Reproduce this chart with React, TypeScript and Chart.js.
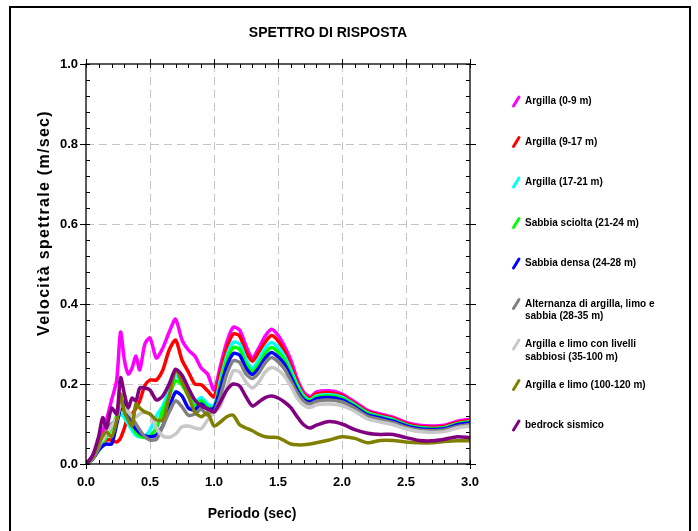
import React, { useEffect, useRef } from "react";
import { Chart, registerables } from "chart.js";
Chart.register(...registerables);

const periods = [0, 0.05, 0.1, 0.13, 0.16, 0.2, 0.24, 0.27, 0.3, 0.33, 0.36, 0.39, 0.42, 0.46, 0.5, 0.55, 0.6, 0.65, 0.7, 0.75, 0.8, 0.85, 0.9, 0.95, 1.0, 1.05, 1.1, 1.15, 1.2, 1.25, 1.3, 1.35, 1.4, 1.45, 1.5, 1.55, 1.6, 1.65, 1.7, 1.75, 1.8, 1.9, 2.0, 2.1, 2.2, 2.3, 2.4, 2.5, 2.6, 2.7, 2.8, 2.9, 3.0];

const argilla0_9 = [0, 0.02, 0.05, 0.08, 0.11, 0.16, 0.21, 0.33, 0.26, 0.225, 0.24, 0.27, 0.235, 0.3, 0.315, 0.265, 0.29, 0.33, 0.362, 0.31, 0.285, 0.27, 0.24, 0.225, 0.185, 0.245, 0.305, 0.342, 0.335, 0.295, 0.265, 0.29, 0.32, 0.337, 0.322, 0.295, 0.26, 0.212, 0.18, 0.168, 0.18, 0.183, 0.175, 0.155, 0.134, 0.125, 0.117, 0.104, 0.097, 0.095, 0.097, 0.107, 0.112];
const argilla9_17 = [0, 0.015, 0.04, 0.05, 0.06, 0.06, 0.055, 0.065, 0.09, 0.12, 0.125, 0.14, 0.158, 0.196, 0.21, 0.21, 0.235, 0.285, 0.31, 0.26, 0.23, 0.2, 0.198, 0.183, 0.168, 0.23, 0.29, 0.325, 0.32, 0.28, 0.257, 0.28, 0.305, 0.321, 0.308, 0.283, 0.245, 0.205, 0.175, 0.164, 0.175, 0.178, 0.171, 0.151, 0.131, 0.122, 0.114, 0.101, 0.094, 0.092, 0.094, 0.104, 0.109];
const argilla17_21 = [0, 0.012, 0.035, 0.05, 0.07, 0.09, 0.11, 0.125, 0.115, 0.1, 0.085, 0.072, 0.068, 0.07, 0.085, 0.12, 0.145, 0.185, 0.22, 0.205, 0.18, 0.155, 0.166, 0.15, 0.145, 0.21, 0.27, 0.304, 0.3, 0.262, 0.24, 0.262, 0.29, 0.304, 0.292, 0.27, 0.235, 0.198, 0.17, 0.16, 0.17, 0.173, 0.167, 0.148, 0.128, 0.119, 0.111, 0.098, 0.091, 0.089, 0.091, 0.101, 0.106];
const sabbiaSciolta = [0, 0.012, 0.035, 0.05, 0.07, 0.09, 0.12, 0.14, 0.13, 0.11, 0.095, 0.079, 0.07, 0.066, 0.07, 0.09, 0.135, 0.17, 0.208, 0.198, 0.17, 0.145, 0.158, 0.142, 0.14, 0.2, 0.26, 0.291, 0.287, 0.25, 0.232, 0.25, 0.277, 0.291, 0.28, 0.26, 0.226, 0.192, 0.166, 0.158, 0.167, 0.17, 0.164, 0.146, 0.126, 0.117, 0.109, 0.097, 0.09, 0.088, 0.09, 0.1, 0.105];
const sabbiaDensa = [0, 0.012, 0.035, 0.045, 0.05, 0.05, 0.1, 0.14, 0.155, 0.12, 0.1, 0.088, 0.078, 0.07, 0.068, 0.072, 0.095, 0.14, 0.18, 0.17, 0.14, 0.135, 0.15, 0.137, 0.14, 0.19, 0.245, 0.276, 0.272, 0.24, 0.224, 0.24, 0.265, 0.279, 0.268, 0.25, 0.218, 0.185, 0.162, 0.155, 0.163, 0.166, 0.16, 0.143, 0.123, 0.115, 0.107, 0.095, 0.088, 0.086, 0.088, 0.098, 0.103];
const alternanza = [0, 0.012, 0.04, 0.06, 0.08, 0.1, 0.11, 0.15, 0.14, 0.13, 0.115, 0.1, 0.085, 0.068, 0.06, 0.062, 0.095, 0.13, 0.158, 0.143, 0.122, 0.125, 0.137, 0.122, 0.13, 0.17, 0.225, 0.258, 0.254, 0.225, 0.214, 0.228, 0.253, 0.266, 0.256, 0.238, 0.208, 0.178, 0.157, 0.15, 0.157, 0.16, 0.155, 0.139, 0.119, 0.111, 0.103, 0.092, 0.085, 0.083, 0.085, 0.094, 0.099];
const argillaLimoLivelli = [0, 0.015, 0.05, 0.06, 0.075, 0.095, 0.115, 0.15, 0.14, 0.13, 0.12, 0.118, 0.125, 0.13, 0.125, 0.09, 0.07, 0.067, 0.075, 0.093, 0.095, 0.09, 0.088, 0.11, 0.128, 0.145, 0.19, 0.233, 0.23, 0.205, 0.19, 0.205, 0.23, 0.241, 0.235, 0.22, 0.195, 0.165, 0.147, 0.141, 0.148, 0.15, 0.146, 0.132, 0.113, 0.105, 0.098, 0.088, 0.081, 0.079, 0.081, 0.09, 0.095];
const argillaLimo = [0, 0.015, 0.05, 0.07, 0.08, 0.068, 0.11, 0.175, 0.13, 0.11, 0.095, 0.15, 0.14, 0.13, 0.125, 0.11, 0.11, 0.17, 0.235, 0.205, 0.17, 0.13, 0.118, 0.128, 0.095, 0.105, 0.118, 0.122, 0.098, 0.09, 0.083, 0.074, 0.068, 0.067, 0.066, 0.058, 0.05, 0.048, 0.048, 0.05, 0.053, 0.06, 0.068, 0.064, 0.053, 0.059, 0.059, 0.055, 0.053, 0.053, 0.056, 0.058, 0.058];
const bedrock = [0, 0.02, 0.07, 0.116, 0.09, 0.14, 0.125, 0.216, 0.175, 0.141, 0.165, 0.158, 0.19, 0.19, 0.185, 0.16, 0.17, 0.2, 0.237, 0.222, 0.19, 0.16, 0.145, 0.138, 0.13, 0.155, 0.185, 0.2, 0.195, 0.168, 0.145, 0.155, 0.166, 0.17, 0.165, 0.155, 0.141, 0.118, 0.098, 0.09, 0.097, 0.106, 0.1, 0.086, 0.077, 0.074, 0.074, 0.066, 0.059, 0.058, 0.062, 0.068, 0.066];

const seriesValues = [argilla0_9, argilla9_17, argilla17_21, sabbiaSciolta, sabbiaDensa, alternanza, argillaLimoLivelli, argillaLimo, bedrock];
const seriesLabels = [
  "Argilla (0-9 m)",
  "Argilla (9-17 m)",
  "Argilla (17-21 m)",
  "Sabbia sciolta (21-24 m)",
  "Sabbia densa (24-28 m)",
  "Alternanza di argilla, limo e\nsabbia (28-35 m)",
  "Argilla e limo con livelli\nsabbiosi (35-100 m)",
  "Argilla e limo (100-120 m)",
  "bedrock sismico",
];
const seriesColors = ["#ff00ff", "#ff0000", "#00ffff", "#00ff00", "#0000ff", "#808080", "#c8c8c8", "#808000", "#800080"];

const xTickLabels = ["0.0", "0.5", "1.0", "1.5", "2.0", "2.5", "3.0"];
const yTickLabels = ["0.0", "0.2", "0.4", "0.6", "0.8", "1.0"];
const chartTitle = "SPETTRO DI RISPOSTA";
const xTitle = "Periodo (sec)";
const yTitle = "Velocità spettrale (m/sec)";

const FONT = "'Liberation Sans', Arial, Helvetica, sans-serif";

const decorPlugin = {
  id: "decor",
  beforeDatasetsDraw(chart: any) {
    const { ctx, chartArea: a, scales } = chart;
    const xs = scales.x, ys = scales.y;
    ctx.save();
    ctx.strokeStyle = "#c4c4c4";
    ctx.lineWidth = 1;
    ctx.setLineDash([8, 5]);
    for (let v = 0.5; v < 3; v += 0.5) {
      const px = Math.round(xs.getPixelForValue(v)) + 0.5;
      ctx.beginPath();
      ctx.moveTo(px, a.top);
      ctx.lineTo(px, a.bottom);
      ctx.stroke();
    }
    for (let v = 0.2; v < 0.99; v += 0.2) {
      const py = Math.round(ys.getPixelForValue(v)) + 0.5;
      ctx.beginPath();
      ctx.moveTo(a.left, py);
      ctx.lineTo(a.right, py);
      ctx.stroke();
    }
    ctx.restore();
  },
  afterDatasetsDraw(chart: any) {
    const { ctx, chartArea: a, scales } = chart;
    const xs = scales.x, ys = scales.y;
    ctx.save();
    ctx.setLineDash([]);
    ctx.strokeStyle = "#000";
    ctx.lineWidth = 1.3;
    ctx.strokeRect(a.left, a.top, a.right - a.left, a.bottom - a.top);
    ctx.lineWidth = 1;
    ctx.beginPath();
    for (let i = 0; i <= 30; i++) {
      const px = Math.round(xs.getPixelForValue(i / 10)) + 0.5;
      const major = i % 5 === 0;
      ctx.moveTo(px, a.bottom + (major ? 5 : 0));
      ctx.lineTo(px, a.bottom - 4);
      ctx.moveTo(px, a.top - (major ? 5 : 0));
      ctx.lineTo(px, a.top + 4);
    }
    for (let i = 0; i <= 25; i++) {
      const py = Math.round(ys.getPixelForValue(i * 0.04)) + 0.5;
      const major = i % 5 === 0;
      ctx.moveTo(a.left - (major ? 6 : 0), py);
      ctx.lineTo(a.left + 4, py);
      ctx.moveTo(a.right + (major ? 6 : 0), py);
      ctx.lineTo(a.right - 4, py);
    }
    ctx.stroke();
    ctx.restore();
  },
  afterDraw(chart: any) {
    const { ctx } = chart;
    ctx.save();
    ctx.setLineDash([]);
    ctx.strokeStyle = "#000";
    ctx.lineWidth = 2;
    ctx.strokeRect(10, 7, 680, 560);
    ctx.fillStyle = "#000";
    ctx.textAlign = "center";
    ctx.textBaseline = "middle";
    ctx.font = `bold 14px ${FONT}`;
    ctx.fillText(chartTitle, 328, 33);
    ctx.fillText(xTitle, 252, 514);
    ctx.save();
    ctx.translate(45, 223);
    ctx.rotate(-Math.PI / 2);
    ctx.font = `bold 16px ${FONT}`;
    try { (ctx as any).letterSpacing = "1.3px"; } catch (e) {}
    ctx.fillText(yTitle, 0, 0);
    try { (ctx as any).letterSpacing = "0px"; } catch (e) {}
    ctx.restore();
    ctx.textAlign = "left";
    ctx.font = `bold 10px ${FONT}`;
    seriesLabels.forEach((label, i) => {
      const y = 101.5 + i * 40.5;
      ctx.strokeStyle = seriesColors[i];
      ctx.lineWidth = 3;
      ctx.lineCap = "round";
      ctx.beginPath();
      ctx.moveTo(513.5, y + 4.5);
      ctx.lineTo(519, y - 4.5);
      ctx.stroke();
      ctx.fillStyle = "#000";
      label.split("\n").forEach((line, j) => {
        ctx.fillText(line, 525, y + j * 12.5);
      });
    });
    ctx.restore();
  },
};

export default function App() {
  const ref = useRef<HTMLCanvasElement | null>(null);
  useEffect(() => {
    if (!ref.current) return;
    const datasets = seriesValues.map((vals, i) => ({
      label: seriesLabels[i],
      data: periods.map((t, k) => ({ x: t, y: vals[k] })),
      borderColor: seriesColors[i],
      backgroundColor: seriesColors[i],
      borderWidth: 3.5,
      pointRadius: 0,
      tension: 0.25,
      borderJoinStyle: "round" as const,
      borderCapStyle: "round" as const,
      fill: false,
      order: seriesValues.length - i,
    }));
    const chart = new Chart(ref.current, {
      type: "line",
      data: { datasets },
      options: {
        animation: false,
        responsive: false,
        devicePixelRatio: 1,
        layout: { padding: { left: 0, right: 228, top: 64, bottom: 0 } },
        plugins: { legend: { display: false }, tooltip: { enabled: false }, title: { display: false } },
        scales: {
          x: {
            type: "linear",
            min: 0,
            max: 3,
            grid: { display: false, drawTicks: false },
            border: { display: false },
            afterFit: (s: any) => { s.height = 67; },
            ticks: {
              stepSize: 0.5,
              padding: 11,
              color: "#000",
              font: { family: FONT, size: 13, weight: "bold" },
              maxRotation: 0,
              callback: (_v: any, i: number) => xTickLabels[i],
            },
          },
          y: {
            type: "linear",
            min: 0,
            max: 1,
            grid: { display: false, drawTicks: false },
            border: { display: false },
            afterFit: (s: any) => { s.width = 86; },
            ticks: {
              stepSize: 0.2,
              padding: 8,
              color: "#000",
              font: { family: FONT, size: 13, weight: "bold" },
              callback: (_v: any, i: number) => yTickLabels[i],
            },
          },
        },
      },
      plugins: [decorPlugin],
    } as any);
    return () => chart.destroy();
  }, []);
  return (
    <div style={{ position: "fixed", left: 0, top: 0, width: 698, height: 531, background: "#fff" }}>
      <canvas ref={ref} width={698} height={531} style={{ width: 698, height: 531, display: "block" }} />
    </div>
  );
}
